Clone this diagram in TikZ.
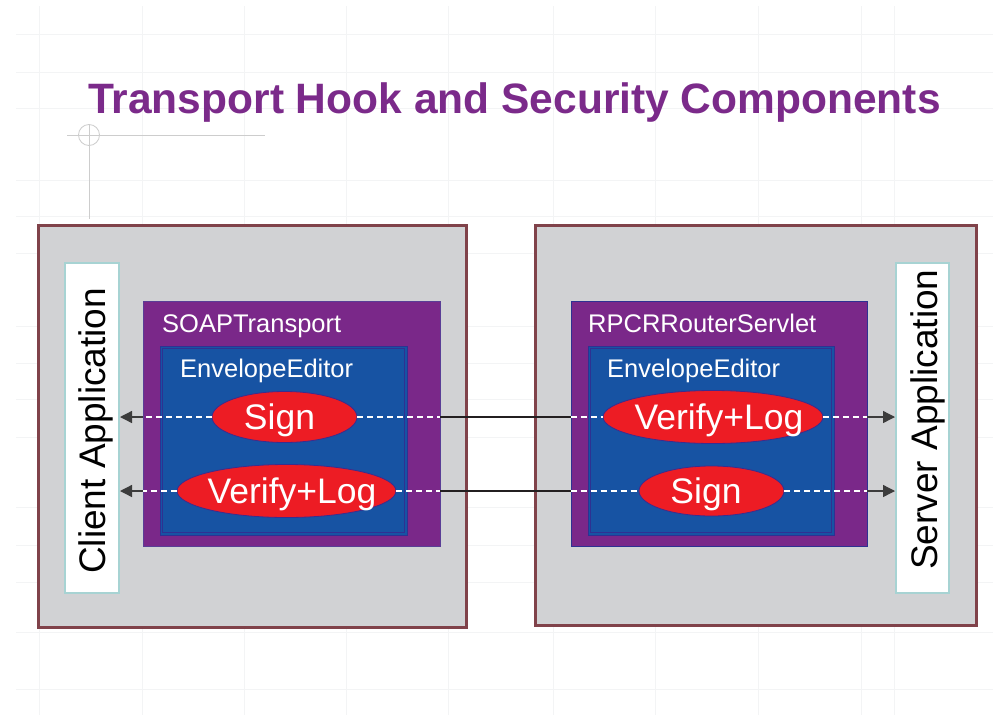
\documentclass[tikz,border=0pt]{standalone}
\usepackage{fontspec}
\setmainfont{Liberation Sans}
\usetikzlibrary{arrows.meta,shapes.geometric}
\definecolor{titlepurple}{RGB}{123,42,138}
\definecolor{boxgray}{RGB}{209,210,212}
\definecolor{outerborder}{RGB}{128,66,74}
\definecolor{appborder}{RGB}{167,211,211}
\definecolor{compurple}{RGB}{122,40,137}
\definecolor{compborder}{RGB}{90,62,150}
\definecolor{envblue}{RGB}{23,83,163}
\definecolor{envborder}{RGB}{46,49,146}
\definecolor{ellred}{RGB}{237,28,36}
\definecolor{ellborder}{RGB}{59,44,143}
\definecolor{arrgray}{RGB}{60,60,60}
\definecolor{linek}{RGB}{35,31,32}
\definecolor{gridc}{RGB}{243,244,245}
\definecolor{crossc}{RGB}{205,205,205}
\tikzset{
  outerbox/.style={rectangle,draw=outerborder,line width=3pt,fill=boxgray,inner sep=0pt},
  appbox/.style={rectangle,draw=appborder,line width=2pt,fill=white,inner sep=0pt},
  compbox/.style={rectangle,draw=compborder,line width=0.8pt,fill=compurple,inner sep=0pt},
  envbox/.style={rectangle,draw=envborder,line width=1pt,fill=envblue,inner sep=0pt},
  envinner/.style={draw=envborder,line width=0.8pt},
  hook/.style={ellipse,draw=ellborder,line width=0.8pt,fill=ellred,inner sep=0pt},
  hooktext/.style={text=white,font=\fontsize{35.5}{40}\selectfont,inner sep=0pt,text height=25pt,text depth=0pt},
  boxlabel/.style={text=white,font=\fontsize{25.5}{30}\selectfont,inner sep=0pt,anchor=base west},
  applabel/.style={text=black,font=\fontsize{37}{44}\selectfont,inner sep=0pt,anchor=base west,rotate=90},
  dashw/.style={white,line width=1.2pt,dash pattern=on 6pt off 4pt},
  toapp/.style={arrgray,line width=1.3pt,-{Triangle[length=12pt,width=12pt]}},
  wire/.style={linek,line width=2.6pt},
  gridline/.style={gridc,line width=1pt}
}
\begin{document}
\begin{tikzpicture}[x=1pt,y=-1pt]
\useasboundingbox (0,0) rectangle (993,715);
\fill[white] (0,0) rectangle (993,715);
% faint background grid
\foreach \yy in {34,72,108,180,216,253,326,363,399,437,507,545,582,632,689}
  \draw[gridline] (16,\yy) -- (993,\yy);
\foreach \xx in {39,142,244,346,448,553,655,758,861,894}
  \draw[gridline] (\xx,6) -- (\xx,715);
% crosshair mark
\draw[crossc,line width=0.8pt] (67,135) -- (265,135);
\draw[crossc,line width=0.8pt] (89,125) -- (89,219);
\draw[crossc,line width=0.8pt] (89,135) circle[radius=10.5pt];
% title
\node[anchor=base west,inner sep=0pt,text=titlepurple,font=\bfseries\fontsize{42.5}{48}\selectfont] (title) at (88,113) {Transport Hook and Security Components};
% outer boxes
\node[outerbox,minimum width=428pt,minimum height=402pt] (leftouter) at (252,426) {};
\node[outerbox,minimum width=441pt,minimum height=400pt] (rightouter) at (755.5,425) {};
% applications
\node[appbox,minimum width=54pt,minimum height=330pt] (client) at (92,428) {};
\node[applabel] (clientlabel) at (105,574) {Client Application};
\node[appbox,minimum width=53pt,minimum height=330pt] (server) at (922.5,428) {};
\node[applabel] (serverlabel) at (937,570) {Server Application};
% component boxes
\node[compbox,minimum width=297pt,minimum height=245pt] (soap) at (291.5,423.5) {};
\node[boxlabel] (soaplabel) at (162,332) {SOAPTransport};
\node[envbox,minimum width=247pt,minimum height=189pt] (lenv) at (283.5,440.5) {};
\draw[envinner] ([xshift=3pt,yshift=3pt]lenv.south west) rectangle ([xshift=-3pt,yshift=-3pt]lenv.north east);
\node[boxlabel] (lenvlabel) at (180,377) {EnvelopeEditor};
\node[compbox,draw=envborder,minimum width=296pt,minimum height=245pt] (rpc) at (719,423.5) {};
\node[boxlabel] (rpclabel) at (588,332) {RPCRRouterServlet};
\node[envbox,minimum width=246pt,minimum height=189pt] (renv) at (711,440.5) {};
\draw[envinner] ([xshift=3pt,yshift=3pt]renv.south west) rectangle ([xshift=-3pt,yshift=-3pt]renv.north east);
\node[boxlabel] (renvlabel) at (607,377) {EnvelopeEditor};
% hooks
\node[hook,minimum width=145pt,minimum height=51pt] (lsign) at (284.5,417) {};
\node[hooktext,xshift=-5pt] at (lsign.center) {Sign};
\node[hook,minimum width=219pt,minimum height=53pt] (lver) at (286.5,491) {};
\node[hooktext,xshift=5.5pt] at (lver.center) {Verify+Log};
\node[hook,minimum width=220pt,minimum height=53pt] (rver) at (713,417) {};
\node[hooktext,xshift=6pt] at (rver.center) {Verify+Log};
\node[hook,minimum width=145pt,minimum height=50pt] (rsign) at (711.5,491) {};
\node[hooktext,xshift=-5.5pt] at (rsign.center) {Sign};
% top row connectors
\draw[dashw] (lsign.west) -- (lsign.west -| soap.west);
\draw[toapp] (lsign.west -| soap.west) -- (lsign.west -| client.east);
\draw[dashw] (lsign.east) -- (lsign.east -| soap.east);
\draw[wire] (lsign.east -| soap.east) -- (rver.west -| rpc.west);
\draw[dashw] (rver.west -| rpc.west) -- (rver.west);
\draw[dashw] (rver.east) -- (rver.east -| rpc.east);
\draw[toapp] (rver.east -| rpc.east) -- (rver.east -| server.west);
% bottom row connectors
\draw[dashw] (lver.west) -- (lver.west -| soap.west);
\draw[toapp] (lver.west -| soap.west) -- (lver.west -| client.east);
\draw[dashw] (lver.east) -- (lver.east -| soap.east);
\draw[wire] (lver.east -| soap.east) -- (rsign.west -| rpc.west);
\draw[dashw] (rsign.west -| rpc.west) -- (rsign.west);
\draw[dashw] (rsign.east) -- (rsign.east -| rpc.east);
\draw[toapp] (rsign.east -| rpc.east) -- (rsign.east -| server.west);
\end{tikzpicture}
\end{document}
